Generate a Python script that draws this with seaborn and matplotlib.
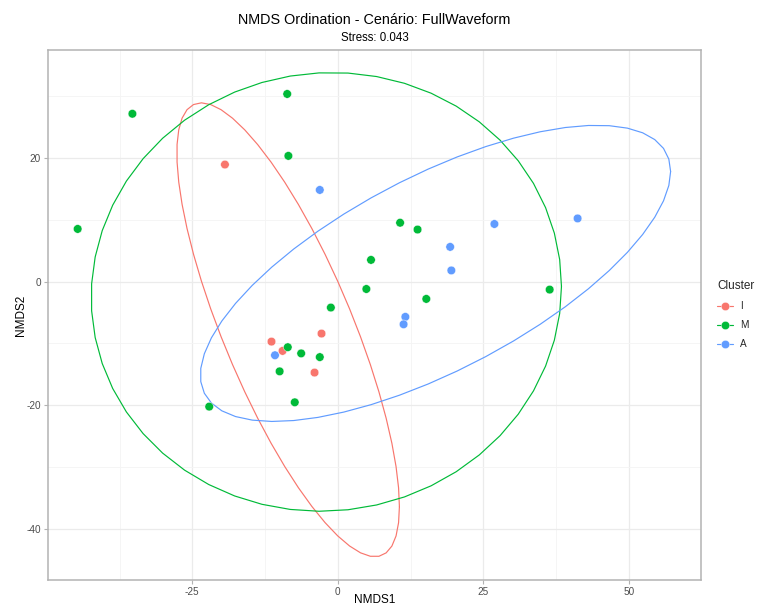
import numpy as np
import pandas as pd
import matplotlib
matplotlib.use("Agg")
import matplotlib.pyplot as plt
import seaborn as sns
from matplotlib.lines import Line2D

# NMDS site scores per cluster
clusters = ["I", "M", "A"]

nmds1_I = [-19.4, -2.8, -11.4, -9.5, -4.0]
nmds2_I = [18.9, -8.4, -9.7, -11.2, -14.7]

nmds1_M = [-35.3, -8.7, -8.5, -44.7, 5.7, 4.9, -1.2, 10.7, 13.7, 15.2, 36.4,
           -8.6, -6.3, -3.1, -10.0, -7.4, -22.1]
nmds2_M = [27.1, 30.3, 20.3, 8.5, 3.5, -1.2, -4.2, 9.5, 8.4, -2.8, -1.3,
           -10.6, -11.6, -12.2, -14.5, -19.5, -20.2]

nmds1_A = [-3.1, 26.9, 41.2, 19.3, 19.5, 11.6, 11.3, -10.8]
nmds2_A = [14.8, 9.3, 10.2, 5.6, 1.8, -5.7, -6.9, -11.9]

stress = 0.043
scenario = "FullWaveform"

palette = {"I": "#F8766D", "M": "#00BA38", "A": "#619CFF"}

df = pd.concat([
    pd.DataFrame({"NMDS1": nmds1_I, "NMDS2": nmds2_I, "Cluster": "I"}),
    pd.DataFrame({"NMDS1": nmds1_M, "NMDS2": nmds2_M, "Cluster": "M"}),
    pd.DataFrame({"NMDS1": nmds1_A, "NMDS2": nmds2_A, "Cluster": "A"}),
], ignore_index=True)


def cov_trob(x, nu=5, maxit=25, tol=0.01):
    """Robust multivariate-t location/scatter estimate (as MASS::cov.trob)."""
    n, p = x.shape
    loc = x.mean(axis=0)
    w = np.ones(n)
    X = x - loc
    for _ in range(maxit):
        w0 = w
        X = x - loc
        A = np.sqrt(w / w.sum())[:, None] * X
        _, d, vt = np.linalg.svd(A, full_matrices=False)
        wX = X @ vt.T @ np.diag(1.0 / d)
        Q = (wX ** 2).sum(axis=1)
        w = (nu + p) / (nu + Q)
        loc = (w[:, None] * x).sum(axis=0) / w.sum()
        if np.all(np.abs(w - w0) < tol):
            break
    sw = np.sqrt(w)[:, None] * X
    cov = sw.T @ sw / n
    return loc, cov


def t_ellipse(x, level=0.95, segments=51):
    """95% ellipse based on the multivariate t distribution."""
    dfd = x.shape[0] - 1
    # F quantile with 2 numerator degrees of freedom has a closed form
    fq = dfd / 2.0 * ((1 - level) ** (-2.0 / dfd) - 1)
    radius = np.sqrt(2 * fq)
    center, shape = cov_trob(x)
    R = np.linalg.cholesky(shape).T
    ang = np.arange(segments + 1) * 2 * np.pi / segments
    circle = np.column_stack([np.cos(ang), np.sin(ang)])
    return center + radius * circle @ R


sns.set_theme(style="white")
plt.rcParams["font.family"] = ["Liberation Sans", "DejaVu Sans"]
plt.rcParams["axes.unicode_minus"] = False

W, H = 757, 608
fig = plt.figure(figsize=(W / 100, H / 100), dpi=100)
left, right, top, bottom = 48, 701, 50, 580
pw, ph = right - left, bottom - top
ax = fig.add_axes([left / W, 1 - bottom / H, pw / W, ph / H])

ax.set_xlim(-49.8, 62.4)
ax.set_ylim(-48.2, 37.4)
ax.set_xticks([-25, 0, 25, 50])
ax.set_xticks([-37.5, -12.5, 12.5, 37.5], minor=True)
ax.set_yticks([-40, -20, 0, 20])
ax.set_yticks([-30, -10, 10, 30], minor=True)
ax.grid(True, which="major", color="#EBEBEB", linewidth=0.9)
ax.grid(True, which="minor", color="#F4F4F4", linewidth=0.6)
ax.set_axisbelow(True)

for c in clusters:
    pts = df.loc[df["Cluster"] == c, ["NMDS1", "NMDS2"]].to_numpy()
    e = t_ellipse(pts)
    ax.plot(e[:, 0], e[:, 1], color=palette[c], linewidth=0.85, zorder=2)

sns.scatterplot(data=df, x="NMDS1", y="NMDS2", hue="Cluster", hue_order=clusters,
                palette=palette, s=38, edgecolor="white", linewidth=0.3,
                legend=False, ax=ax, zorder=3)

for sp in ax.spines.values():
    sp.set_color("#B3B3B3")
    sp.set_linewidth(1.1)
ax.tick_params(axis="both", which="major", length=3, width=0.8, color="#B3B3B3",
               labelsize=7.2, labelcolor="#4D4D4D", pad=2, bottom=True, left=True)
ax.tick_params(axis="both", which="minor", length=0)

ax.set_xlabel("NMDS1", fontsize=8.5, color="black", va="center")
ax.set_ylabel("NMDS2", fontsize=8.5, color="black", va="center")
ax.xaxis.set_label_coords(0.5, -(600 - bottom) / ph)
ax.yaxis.set_label_coords(-(left - 21) / pw, 0.5)

cx = (left + right) / 2 / W
fig.text(cx, 1 - 20 / H, "NMDS Ordination - Cenário: " + scenario,
         ha="center", va="center", fontsize=10.4, color="black")
fig.text(cx, 1 - 38 / H, f"Stress: {stress:.3f}",
         ha="center", va="center", fontsize=8.3, color="black")

handles = [Line2D([0], [0], color=palette[c], marker="o", markersize=6,
                  markeredgecolor="white", markeredgewidth=0.3, linewidth=0.85)
           for c in clusters]
leg = fig.legend(handles, clusters, title="Cluster", loc="upper left",
                 bbox_to_anchor=(717 / W, 1 - 280 / H), frameon=False,
                 fontsize=7.2, title_fontsize=8.5, handlelength=1.6,
                 labelspacing=0.9, handletextpad=0.7, alignment="left",
                 borderpad=0, borderaxespad=0)

fig.savefig("out.png", dpi=100)
